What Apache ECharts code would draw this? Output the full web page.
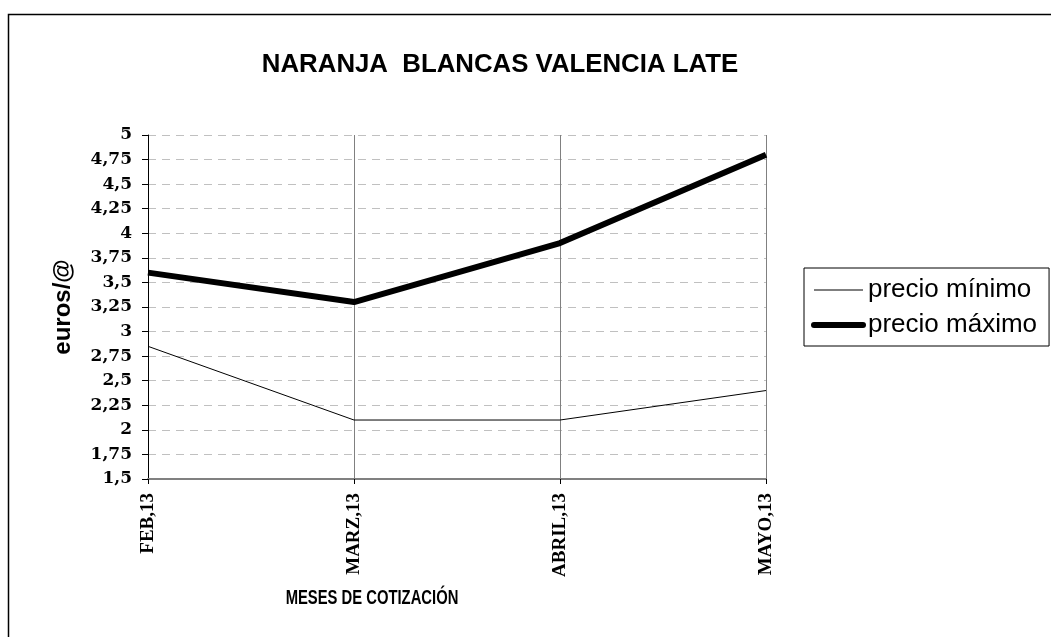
<!DOCTYPE html>
<html>
<head>
<meta charset="utf-8">
<script src="https://cdn.jsdelivr.net/npm/echarts@6/dist/echarts.min.js"></script>
<style>
  html, body { margin: 0; padding: 0; background: #fff; }
  #main { width: 1051px; height: 637px; }
</style>
</head>
<body>
<div id="main"></div>
<script>
var meses = ['FEB,13', 'MARZ,13', 'ABRIL,13', 'MAYO,13'];
var precioMinimo = [2.85, 2.1, 2.1, 2.4];
var precioMaximo = [3.6, 3.3, 3.9, 4.8];

var myChart = echarts.init(document.getElementById('main'));

// sin circulo en la leyenda, solo la linea
var sinSimbolo = { color: 'transparent', borderColor: 'transparent', borderWidth: 0, opacity: 0 };

var option = {
    backgroundColor: '#fff',
    animation: false,
    title: {
        text: 'NARANJA  BLANCAS VALENCIA LATE',
        left: 495,
        top: 47,
        textAlign: 'center',
        textStyle: { fontFamily: 'Liberation Sans', fontWeight: 'bold', fontSize: 25.8, color: '#000' }
    },
    graphic: [{
        type: 'rect',
        shape: { x: 8.5, y: 14.5, width: 1200, height: 700 },
        style: { fill: 'none', stroke: '#000', lineWidth: 1.5 },
        silent: true
    }, {
        // titulo del eje X (letra estrecha)
        type: 'text',
        x: 372,
        y: 598,
        scaleX: 0.74,
        silent: true,
        style: {
            text: 'MESES DE COTIZACIÓN',
            x: 0,
            y: 0,
            fill: '#000',
            font: 'bold 20px "Liberation Sans"',
            textAlign: 'center',
            textVerticalAlign: 'middle'
        }
    }],
    legend: {
        orient: 'vertical',
        left: 804,
        top: 268,
        padding: [9, 12, 8, 7],
        itemGap: 9,
        itemWidth: 49,
        itemHeight: 28,
        borderColor: '#000',
        borderWidth: 1,
        textStyle: { fontFamily: 'Liberation Sans', fontSize: 26, color: '#000' },
        data: [
            { name: 'precio mínimo', itemStyle: sinSimbolo, lineStyle: { width: 1.2, color: '#000' } },
            { name: 'precio máximo', itemStyle: sinSimbolo, lineStyle: { width: 6, color: '#000', cap: 'round' } }
        ]
    },
    grid: { left: 148, right: 285, top: 135, bottom: 158 },
    xAxis: {
        type: 'category',
        data: meses,
        boundaryGap: false,
        axisLine: { lineStyle: { color: '#808080', width: 2 } },
        axisTick: { show: true, length: 5, lineStyle: { color: '#000' } },
        splitLine: { show: true, lineStyle: { color: '#808080', width: 1 } },
        axisLabel: {
            rotate: 90,
            margin: 14,
            fontFamily: 'Liberation Serif',
            fontWeight: 'bold',
            fontSize: 19,
            color: '#000'
        }
    },
    yAxis: {
        type: 'value',
        min: 1.5,
        max: 5,
        interval: 0.25,
        name: 'euros/@',
        nameLocation: 'middle',
        nameGap: 73,
        nameMoveOverlap: false,
        nameTextStyle: { fontFamily: 'Liberation Sans', fontWeight: 'bold', fontSize: 24, color: '#000' },
        axisLine: { show: true, lineStyle: { color: '#000', width: 1 } },
        axisTick: { show: true, length: 6, lineStyle: { color: '#000' } },
        splitLine: { show: true, lineStyle: { color: '#c0c0c0', type: [8, 6], width: 1 } },
        axisLabel: {
            margin: 16,
            fontFamily: 'DejaVu Serif',
            fontWeight: 'bold',
            fontSize: 17,
            color: '#000',
            formatter: function (v) { return String(v).replace('.', ','); }
        }
    },
    series: [{
        name: 'precio mínimo',
        type: 'line',
        data: precioMinimo,
        symbol: 'none',
        lineStyle: { color: '#000', width: 1 },
        itemStyle: { color: '#000' }
    }, {
        name: 'precio máximo',
        type: 'line',
        data: precioMaximo,
        symbol: 'none',
        lineStyle: { color: '#000', width: 6 },
        itemStyle: { color: '#000' }
    }]
};

myChart.setOption(option);
</script>
</body>
</html>
